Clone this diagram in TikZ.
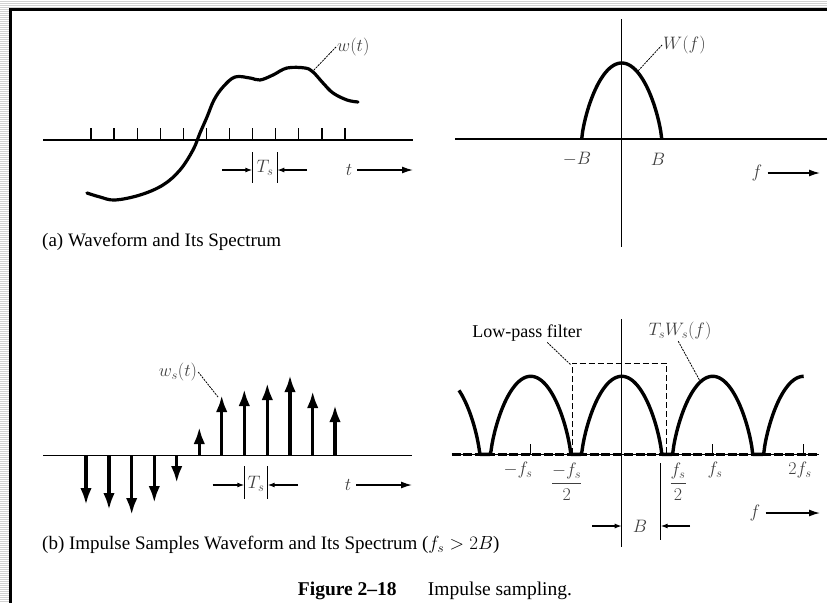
\RequirePackage{fix-cm}
\documentclass[tikz,border=0pt]{standalone}
\usepackage{amsmath}
\usepackage{fontspec}
\setmainfont{Liberation Serif}
\usepackage{tikz}
\usetikzlibrary{arrows.meta}

\begin{document}
\begin{tikzpicture}[
    x=1pt, y=-1pt,
    declare function={hump(\u)=(abs(\u)<1)*sqrt(abs(1-\u*\u))*sqrt(sqrt(abs(1-\u*\u)));},
    stripe/.style={black!18, line width=0.8pt},
    frameline/.style={line width=2.2pt},
    axisline/.style={line width=1.2pt},
    thickaxis/.style={line width=2.8pt},
    dashaxis/.style={line width=2.8pt, dash pattern=on 9pt off 2.5pt},
    tickline/.style={line width=1.2pt},
    wave/.style={line width=3.2pt, line join=round, line cap=round},
    spec/.style={line width=3.4pt, line join=round},
    impulse/.style={line width=3.4pt, -{Latex[length=17pt,width=11.5pt]}},
    dimbar/.style={line width=1.2pt},
    dimarrow/.style={line width=1.2pt, -{Latex[length=7pt,width=5pt]}},
    varrow/.style={line width=1.4pt, shorten <=4pt, -{Latex[length=11pt,width=7pt]}},
    filterbox/.style={line width=1pt, dash pattern=on 6pt off 3pt},
    leader/.style={line width=0.8pt, dash pattern=on 2pt off 1pt},
    lbl/.style={font=\fontsize{18}{21}\selectfont, text=black!75, inner sep=1pt},
    capt/.style={font=\fontsize{19}{22}\selectfont, anchor=west, inner sep=0pt},
    txt/.style={font=\fontsize{18}{20}\selectfont, inner sep=1pt}
]
\useasboundingbox (0,0) rectangle (827,603);

% ============ frame ============
\foreach \yy in {1,3,...,601} \draw[stripe] (0,\yy) -- (9,\yy);
\foreach \yy in {1,3,5,7} \draw[stripe] (9,\yy) -- (827,\yy);
\draw[frameline] (827,9.5) -- (10.5,9.5) -- (10.5,603);

% ============ (a) waveform ============
\draw[axisline] (43,140) -- (413,140);
\foreach \i in {0,...,11} \draw[tickline] ({91+23.09*\i},128) -- ++(0,12);
\draw[wave] plot[smooth, tension=0.6] coordinates {(87,193) (100,197) (115,200) (140,195) (163,185)
    (180,170) (193,150) (200,133) (207,117) (214,100) (223,87) (235,77) (250,78) (260,80)
    (273,75) (287,68) (305,68) (313,72) (323,83) (333,93) (347,100) (358,102)};

\node[lbl, anchor=west] (w-lbl) at (336,47) {$w(t)$};
\coordinate (w-pt) at (313,71);
\draw[leader] (w-lbl.west) -- (w-pt);

\node[lbl] (tsa) at (265,168) {$T_s$};
\draw[dimbar] (252.3,152) -- (252.3,183);
\draw[dimbar] (277.3,152) -- (277.3,183);
\coordinate (tsa-lbar) at (252.3,170);
\coordinate (tsa-rbar) at (277.3,170);
\coordinate (tsa-ltail) at (222,170);
\coordinate (tsa-rtail) at (307,170);
\draw[dimarrow] (tsa-ltail) -- (tsa-lbar);
\draw[dimarrow] (tsa-rtail) -- (tsa-rbar);

\node[lbl] (t-a) at (349,170) {$t$};
\coordinate (t-a-end) at (413,170);
\draw[varrow] (t-a.east) -- (t-a-end);

\node[capt] (cap-a) at (42,242) {(a) Waveform and Its Spectrum};

% ============ (a) spectrum ============
\draw[axisline] (621.7,19) -- (621.7,247);
\draw[thickaxis] (455,139) -- (827,139);
\draw[spec] plot[domain=-1:1, samples=81] ({621.7+40*\x},{139-76*hump(\x)});

\node[lbl] (mB) at (577,159) {$-B$};
\node[lbl] (pB) at (658,159) {$B$};

\node[lbl, anchor=west] (W-lbl) at (662,45) {$W(f)$};
\coordinate (W-pt) at (638,71);
\draw[leader] (W-lbl.west) -- (W-pt);

\node[lbl] (f-a) at (757,173) {$f$};
\coordinate (f-a-end) at (820,173);
\draw[varrow] (f-a.east) -- (f-a-end);

% ============ (b) impulse samples ============
\draw[axisline] (43,455.7) -- (412,455.7);
\foreach \xx/\yy in {86/505, 109/510, 131.7/515, 154.3/503, 176.7/483, 199.3/427,
    221.7/395, 244.3/389, 267.3/383, 290/375, 312.7/391, 335/405}
  \draw[impulse] (\xx,455.7) -- (\xx,\yy);

\node[lbl] (ws-lbl) at (178,372) {$w_s(t)$};
\coordinate (ws-pt) at (218,397);
\draw[leader] (ws-lbl.east) -- (ws-pt);

\node[lbl] (tsb) at (256,484) {$T_s$};
\draw[dimbar] (244.3,466) -- (244.3,499);
\draw[dimbar] (267.7,466) -- (267.7,499);
\coordinate (tsb-lbar) at (244.3,485);
\coordinate (tsb-rbar) at (267.7,485);
\coordinate (tsb-ltail) at (212.7,485);
\coordinate (tsb-rtail) at (298,485);
\draw[dimarrow] (tsb-ltail) -- (tsb-lbar);
\draw[dimarrow] (tsb-rtail) -- (tsb-rbar);

\node[lbl] (t-b) at (348,485) {$t$};
\coordinate (t-b-end) at (412,485);
\draw[varrow] (t-b.east) -- (t-b-end);

\node[capt] (cap-b) at (42,545) {(b) Impulse Samples Waveform and Its Spectrum ($f_s>2B$)};

% ============ (b) sampled spectrum ============
\draw[axisline] (621.7,319) -- (621.7,547);
\draw[axisline] (451.7,454.3) -- (819,454.3);
\draw[dashaxis] (451.7,454.3) -- (819,454.3);
\foreach \xx in {530.7,712.7,803.7} \draw[tickline] (\xx,444) -- (\xx,454.3);
\draw[spec] plot[domain=459:803.7, samples=346] (\x,{454.3-78*hump((mod(\x-303.2,91)-45.5)/40)});

\draw[filterbox] (572,454.3) -- (572,363) -- (666.7,363) -- (666.7,454.3);
\node[txt] (lpf-lbl) at (527,333) {Low-pass filter};
\coordinate (lpf-pt) at (571,365);
\draw[leader] (lpf-lbl.-25) -- (lpf-pt);

\node[lbl] (tsws-lbl) at (680,331) {$T_sW_s(f)$};
\coordinate (tsws-pt) at (700,381);
\draw[leader] (tsws-lbl.-100) -- (tsws-pt);

\node[lbl] (mfs) at (518,470) {$-f_s$};
\node[lbl] (mfs2) at (566.7,482) {$\dfrac{-f_s}{2}$};
\node[lbl] (pfs2) at (678,482) {$\dfrac{f_s}{2}$};
\node[lbl] (pfs) at (715,470) {$f_s$};
\node[lbl] (tfs) at (800,470) {$2f_s$};

\node[lbl] (B-lbl) at (640,526) {$B$};
\draw[dimbar] (660.7,463) -- (660.7,540);
\coordinate (B-lhead) at (621.7,526);
\coordinate (B-rhead) at (660.7,526);
\coordinate (B-ltail) at (592,526);
\coordinate (B-rtail) at (690,526);
\draw[dimarrow] (B-ltail) -- (B-lhead);
\draw[dimarrow] (B-rtail) -- (B-rhead);

\node[lbl] (f-b) at (755,513) {$f$};
\coordinate (f-b-end) at (820,513);
\draw[varrow] (f-b.east) -- (f-b-end);

\node[font=\fontsize{19.5}{22}\selectfont, inner sep=0pt] (fig-cap) at (435,591) {\textbf{Figure 2--18}\hspace{1.6em}Impulse sampling.};

\end{tikzpicture}
\end{document}
